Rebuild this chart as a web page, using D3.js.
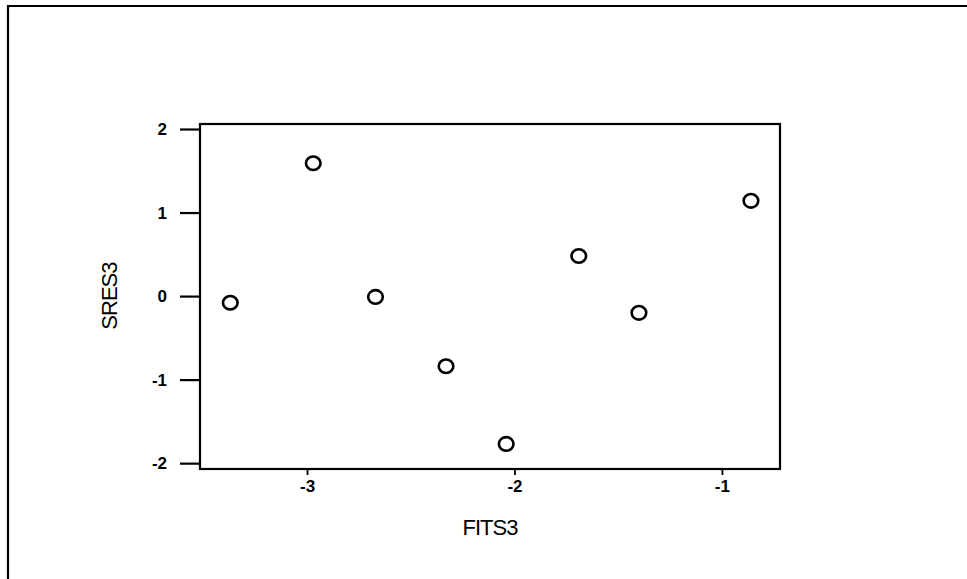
<!DOCTYPE html>
<html>
<head>
<meta charset="utf-8">
<script src="https://cdn.jsdelivr.net/npm/d3@7"></script>
<style>
  html, body { margin: 0; padding: 0; background: #fff; }
  svg { display: block; }
  text { font-family: Arial, "Liberation Sans", sans-serif; fill: #000; }
</style>
</head>
<body>
<svg id="chart" width="967" height="579"></svg>
<script>
// Data
const fits3 = [-3.37, -2.97, -2.67, -2.33, -2.04, -1.69, -1.40, -0.86];
const sres3 = [-0.08, 1.59, -0.01, -0.84, -1.77, 0.48, -0.20, 1.14];
const xTicks = [-3, -2, -1];
const yTicks = [-2, -1, 0, 1, 2];
const xLabel = "FITS3";
const yLabel = "SRES3";

const svg = d3.select("#chart");
const W = 967, H = 579;
const fmt = d => String(d); // plain hyphen-minus as in the reference

// Outer frame (extends past right/bottom edges)
svg.append("path")
  .attr("d", `M${W + 5},6 L8,6 L8,${H + 5}`)
  .attr("fill", "none").attr("stroke", "#000").attr("stroke-width", 2.2);

const plot = { left: 200, right: 780, top: 124, bottom: 469 };

const x = d3.scaleLinear().domain([-3.516, -0.72]).range([plot.left, plot.right]);
const y = d3.scaleLinear().domain([-2.07, 2.06]).range([plot.bottom, plot.top]);

// Plot box
svg.append("rect")
  .attr("x", plot.left).attr("y", plot.top)
  .attr("width", plot.right - plot.left).attr("height", plot.bottom - plot.top)
  .attr("fill", "none").attr("stroke", "#000").attr("stroke-width", 2.2);

// Y axis
const yAxis = svg.append("g")
  .attr("transform", `translate(${plot.left},0)`)
  .attr("font-size", 17)
  .call(d3.axisLeft(y).tickValues(yTicks).tickSize(20).tickPadding(13).tickFormat(fmt));
yAxis.attr("font-size", 17);
yAxis.select(".domain").remove();
yAxis.selectAll("line").attr("stroke", "#000").attr("stroke-width", 2.2);
yAxis.selectAll("text").style("font-size", "17px").style("font-weight", "bold").attr("fill", "#000");

// X axis
const xAxis = svg.append("g")
  .attr("transform", `translate(0,${plot.bottom})`)
  .call(d3.axisBottom(x).tickValues(xTicks).tickSize(6).tickPadding(5).tickFormat(fmt));
xAxis.attr("font-size", 17);
xAxis.select(".domain").remove();
xAxis.selectAll("line").attr("stroke", "#000").attr("stroke-width", 1.8);
xAxis.selectAll("text").style("font-size", "17px").style("font-weight", "bold").attr("fill", "#000");

// Axis titles
svg.append("text")
  .attr("x", (plot.left + plot.right) / 2)
  .attr("y", 535)
  .attr("text-anchor", "middle")
  .style("font-size", "22px")
  .attr("letter-spacing", "-1")
  .text(xLabel);

svg.append("text")
  .attr("transform", `translate(117,${y(0)}) rotate(-90)`)
  .attr("text-anchor", "middle")
  .style("font-size", "22px")
  .attr("letter-spacing", "-1")
  .text(yLabel);

// Points
svg.append("g").selectAll("ellipse")
  .data(fits3.map((v, i) => ({ x: v, y: sres3[i] })))
  .join("ellipse")
  .attr("cx", d => x(d.x))
  .attr("cy", d => y(d.y))
  .attr("rx", 7.3)
  .attr("ry", 6.8)
  .attr("fill", "none")
  .attr("stroke", "#000")
  .attr("stroke-width", 2.6);
</script>
</body>
</html>
